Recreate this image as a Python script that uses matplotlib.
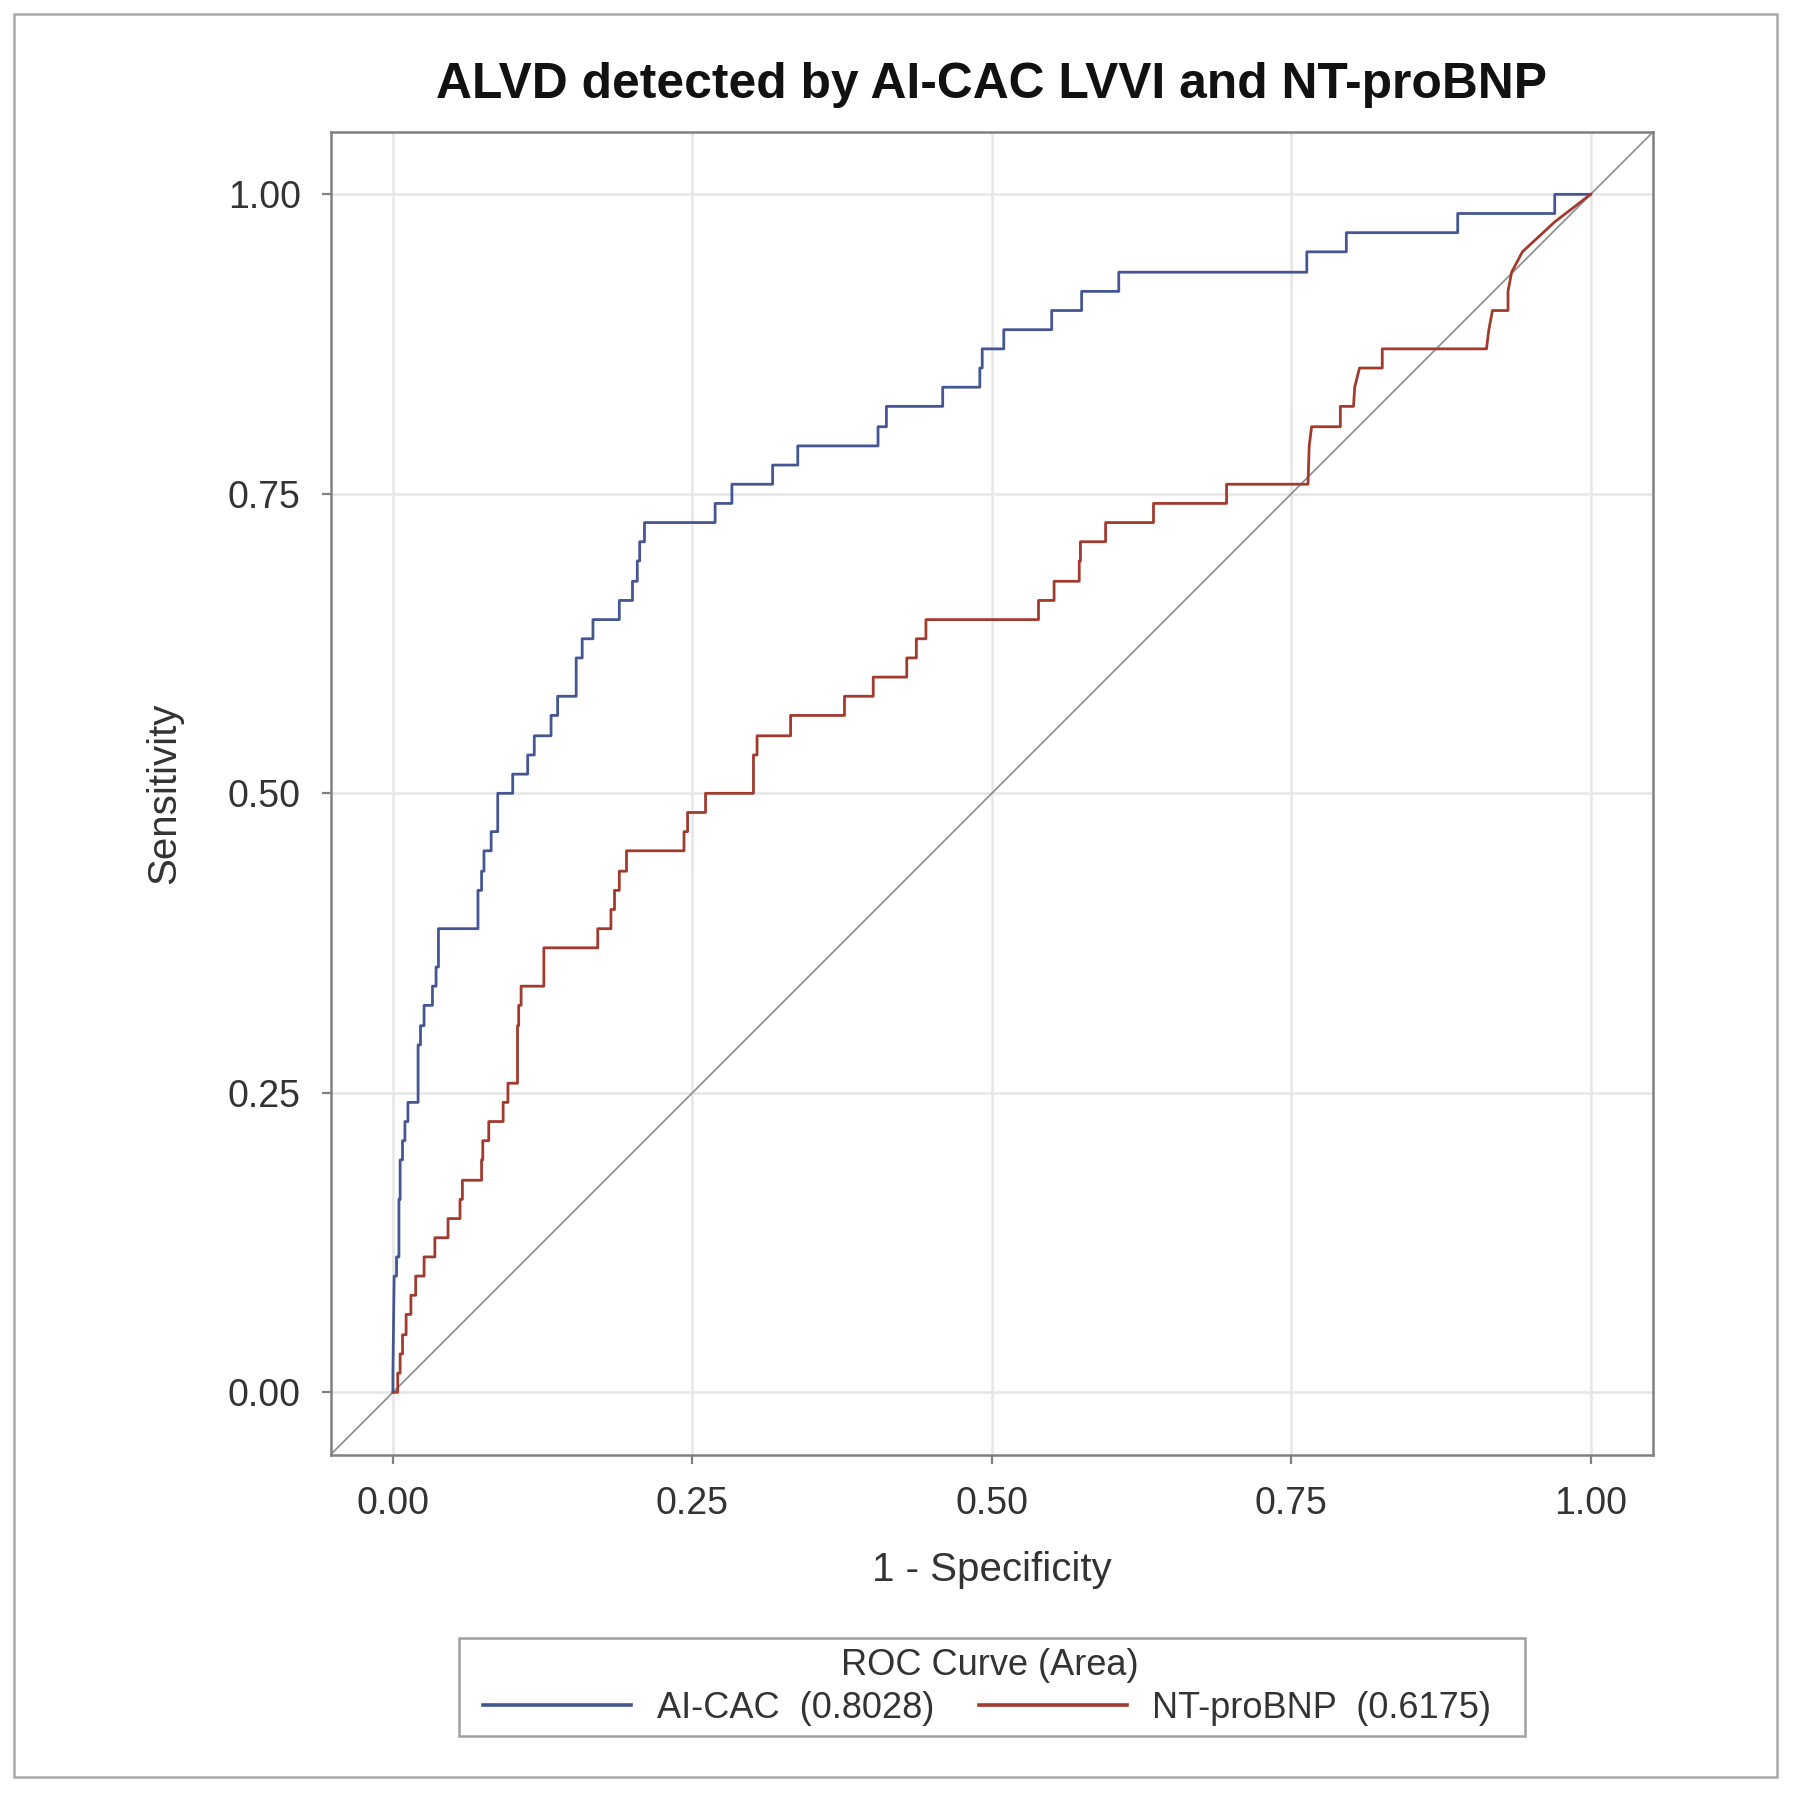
import numpy as np
import matplotlib
matplotlib.use('Agg')
import matplotlib.pyplot as plt
from matplotlib.patches import Rectangle

plt.rcParams['font.family'] = ['Liberation Sans', 'DejaVu Sans']

# ROC points (1 - specificity, sensitivity)
aicac_fpr = [0.000, 0.000, 0.001, 0.003, 0.003, 0.005, 0.005, 0.006, 0.006, 0.008, 0.008,
             0.010, 0.010, 0.0125, 0.0125, 0.021, 0.021, 0.023, 0.023, 0.026, 0.026,
             0.033, 0.033, 0.036, 0.036, 0.038, 0.038, 0.071, 0.071, 0.074, 0.074,
             0.076, 0.076, 0.082, 0.082, 0.0875, 0.0875, 0.100, 0.100, 0.1125, 0.1125,
             0.118, 0.118, 0.132, 0.132, 0.1375, 0.1375, 0.153, 0.153, 0.158, 0.158,
             0.167, 0.167, 0.189, 0.189, 0.200, 0.200, 0.204, 0.204, 0.206, 0.206,
             0.210, 0.210, 0.269, 0.269, 0.283, 0.283, 0.317, 0.317, 0.338, 0.338,
             0.405, 0.405, 0.412, 0.412, 0.459, 0.459, 0.490, 0.490, 0.492, 0.492,
             0.510, 0.510, 0.550, 0.550, 0.575, 0.575, 0.606, 0.606, 0.763, 0.763,
             0.796, 0.796, 0.889, 0.889, 0.970, 0.970, 1.000]
aicac_tpr = [0.000, 0.016, 0.097, 0.097, 0.113, 0.113, 0.161, 0.161, 0.194, 0.194, 0.210,
             0.210, 0.226, 0.226, 0.242, 0.242, 0.290, 0.290, 0.306, 0.306, 0.323,
             0.323, 0.339, 0.339, 0.355, 0.355, 0.387, 0.387, 0.419, 0.419, 0.435,
             0.435, 0.452, 0.452, 0.468, 0.468, 0.500, 0.500, 0.516, 0.516, 0.532,
             0.532, 0.548, 0.548, 0.565, 0.565, 0.581, 0.581, 0.613, 0.613, 0.629,
             0.629, 0.645, 0.645, 0.661, 0.661, 0.677, 0.677, 0.694, 0.694, 0.710,
             0.710, 0.726, 0.726, 0.742, 0.742, 0.758, 0.758, 0.774, 0.774, 0.790,
             0.790, 0.806, 0.806, 0.823, 0.823, 0.839, 0.839, 0.855, 0.855, 0.871,
             0.871, 0.887, 0.887, 0.903, 0.903, 0.919, 0.919, 0.935, 0.935, 0.952,
             0.952, 0.968, 0.968, 0.984, 0.984, 1.000, 1.000]

ntbnp_fpr = [0.000, 0.004, 0.004, 0.006, 0.006, 0.008, 0.008, 0.011, 0.011, 0.015, 0.015,
             0.019, 0.019, 0.026, 0.026, 0.035, 0.035, 0.046, 0.046, 0.056, 0.056,
             0.058, 0.058, 0.074, 0.074, 0.075, 0.075, 0.080, 0.080, 0.092, 0.092,
             0.096, 0.096, 0.104, 0.104, 0.105, 0.105, 0.107, 0.107, 0.126, 0.126,
             0.171, 0.171, 0.182, 0.182, 0.185, 0.185, 0.189, 0.189, 0.195, 0.195,
             0.243, 0.243, 0.246, 0.246, 0.261, 0.261, 0.301, 0.301, 0.304, 0.304,
             0.332, 0.332, 0.377, 0.377, 0.401, 0.401, 0.429, 0.429, 0.437, 0.437,
             0.445, 0.445, 0.539, 0.539, 0.552, 0.552, 0.573, 0.573, 0.574, 0.574,
             0.595, 0.595, 0.635, 0.635, 0.696, 0.696, 0.764, 0.765, 0.767, 0.791,
             0.791, 0.802, 0.803, 0.807, 0.826, 0.826, 0.913, 0.915, 0.918, 0.931,
             0.931, 0.934, 0.943, 0.970, 1.000]
ntbnp_tpr = [0.000, 0.000, 0.016, 0.016, 0.032, 0.032, 0.048, 0.048, 0.065, 0.065, 0.081,
             0.081, 0.097, 0.097, 0.113, 0.113, 0.129, 0.129, 0.145, 0.145, 0.161,
             0.161, 0.177, 0.177, 0.194, 0.194, 0.210, 0.210, 0.226, 0.226, 0.242,
             0.242, 0.258, 0.258, 0.306, 0.306, 0.323, 0.323, 0.339, 0.339, 0.371,
             0.371, 0.387, 0.387, 0.403, 0.403, 0.419, 0.419, 0.435, 0.435, 0.452,
             0.452, 0.468, 0.468, 0.484, 0.484, 0.500, 0.500, 0.532, 0.532, 0.548,
             0.548, 0.565, 0.565, 0.581, 0.581, 0.597, 0.597, 0.613, 0.613, 0.629,
             0.629, 0.645, 0.645, 0.661, 0.661, 0.677, 0.677, 0.694, 0.694, 0.710,
             0.710, 0.726, 0.726, 0.742, 0.742, 0.758, 0.758, 0.790, 0.806, 0.806,
             0.823, 0.823, 0.839, 0.855, 0.855, 0.871, 0.871, 0.887, 0.903, 0.903,
             0.919, 0.935, 0.952, 0.977, 1.000]

curve_names = ['AI-CAC  (0.8028)', 'NT-proBNP  (0.6175)']
ticks = [0.0, 0.25, 0.5, 0.75, 1.0]
tick_labels = ['0.00', '0.25', '0.50', '0.75', '1.00']

blue = '#445694'
red = '#A23A2E'
edge = '#808080'

fig = plt.figure(figsize=(9, 8.97), dpi=200)
ax = fig.add_axes([0.1837, 0.1892, 0.7346, 0.7372])

lo, hi = -0.052, 1.052
ax.set_xlim(lo, hi)
ax.set_ylim(lo, hi)

# grid
for t in ticks:
    ax.axvline(t, color='#E6E6E6', lw=0.9, zorder=0)
    ax.axhline(t, color='#E6E6E6', lw=0.9, zorder=0)

# chance line
ax.plot([lo, hi], [lo, hi], color='#8C8C8C', lw=0.6, zorder=1)

l1, = ax.plot(aicac_fpr, aicac_tpr, color=blue, lw=1.0, zorder=3)
l2, = ax.plot(ntbnp_fpr, ntbnp_tpr, color=red, lw=1.0, zorder=3)

ax.set_xticks(ticks)
ax.set_xticklabels(tick_labels)
ax.set_yticks(ticks)
ax.set_yticklabels(tick_labels)
ax.tick_params(axis='both', direction='out', length=3.3, width=0.8, color=edge,
               labelsize=13.5, labelcolor='#333333')
ax.tick_params(axis='x', pad=8)
ax.tick_params(axis='y', pad=7.5)
for s in ax.spines.values():
    s.set_color(edge)
    s.set_linewidth(0.9)

ax.set_xlabel('1 - Specificity', fontsize=14.5, color='#333333', va='center')
ax.xaxis.set_label_coords(0.5, -0.087)
ax.set_ylabel('Sensitivity', fontsize=14.5, color='#333333', va='center', ha='center')
ax.yaxis.set_label_coords(-0.126, 0.5)

fig.text(0.551, 0.9525, 'ALVD detected by AI-CAC LVVI and NT-proBNP', fontsize=17.9,
         fontweight='bold', ha='center', va='center', color='#111111')

leg = fig.legend([l1, l2], curve_names, title='ROC Curve (Area)', loc='center',
                 bbox_to_anchor=(0.5485, 0.0597), ncol=2, fontsize=13,
                 title_fontsize=13, frameon=False,
                 handlelength=4.1, handletextpad=0.7,
                 columnspacing=1.25, borderpad=0.35, labelspacing=0.2)
leg.get_title().set_position((3, 0))
for t in leg.get_texts():
    t.set_color('#333333')
leg.get_title().set_color('#333333')
for h in leg.legend_handles:
    h.set_linewidth(1.3)

# legend frame
fig.patches.append(Rectangle((0.2551, 0.0326), 0.5919, 0.0544, transform=fig.transFigure,
                             fill=False, edgecolor='#A0A0A0', lw=0.9))
# outer frame
fig.patches.append(Rectangle((0.0078, 0.0095), 0.9794, 0.9827, transform=fig.transFigure,
                             fill=False, edgecolor='#A9A9A9', lw=0.9))

fig.savefig('out.png', dpi=200, facecolor='white')
